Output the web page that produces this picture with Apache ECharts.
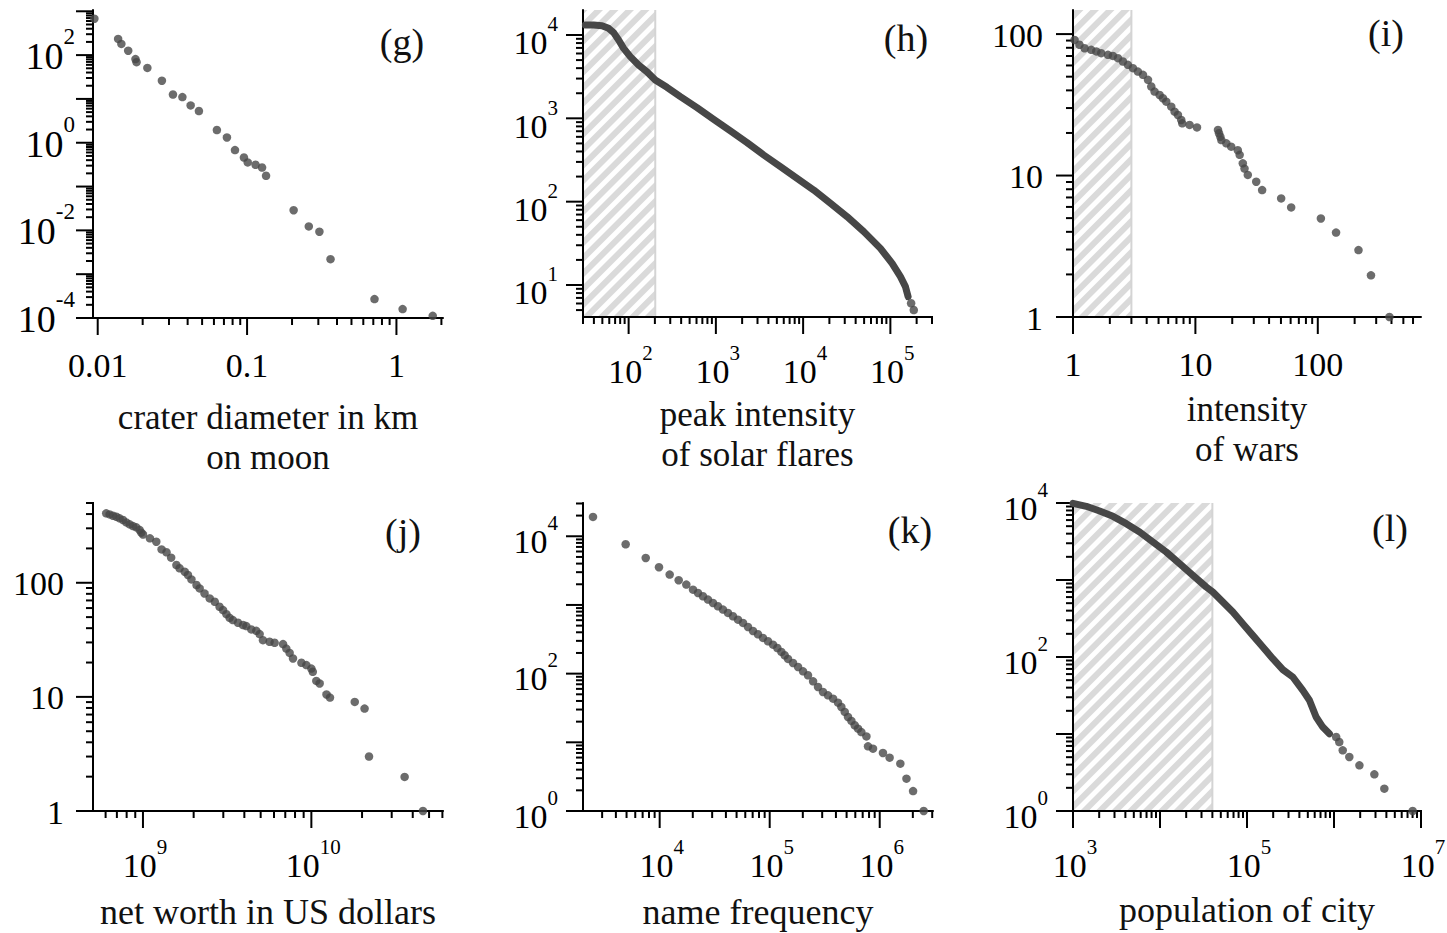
<!DOCTYPE html>
<html><head><meta charset="utf-8">
<script src="https://cdn.jsdelivr.net/npm/echarts@6/dist/echarts.min.js"></script>
<style>html,body{margin:0;padding:0;background:#fff}#c{width:1447px;height:933px}</style>
</head><body><div id="c"></div>
<script>
// ---------- data ----------
const gX = [0.0095,0.0137,0.0144,0.0160,0.0179,0.0182,0.0215,0.0269,0.0319,0.0369,0.0419,0.0476,0.0628,0.0733,0.0830,0.0953,0.101,0.114,0.126,0.134,0.205,0.259,0.305,0.362,0.713,1.10,1.75];
const gY = [676,234,180,126,81,69,51,26,12.6,11.0,7.1,5.3,1.95,1.32,0.68,0.46,0.355,0.314,0.272,0.176,0.0288,0.0123,0.0093,0.0022,0.00027,0.00016,0.000112];

const hCurveX = [31.9,39.7,49.5,59.0,67.3,76.8,87.7,104.5,130,162,202,275,392,608,944,1466,2277,3535,5490,8520,13240,20560,31920,49550,76900,104700,130400,148800,159700];
const hCurveY = [13180,13180,12940,12020,10670,8710,6920,5500,4370,3630,2880,2355,1820,1343,973,705,511,363,263,190.5,138,95.5,66.1,43.7,27.5,18.2,12.6,9.55,7.24];
const hTailX = [172900,185500];
const hTailY = [6.03,5.01];

const iX = [1.03,1.13,1.245,1.41,1.55,1.70,1.93,2.12,2.33,2.56,2.81,3.09,3.39,3.73,4.10,4.36,4.64,5.10,5.43,5.78,6.35,6.76,7.20,7.66,7.81,8.96,10.3,15.3,15.6,16.0,16.3,17.9,19.6,22.2,23.0,24.4,25.2,26.8,31.4,35.1,50.2,60.6,106,141,215,272,385];
const iY = [91.0,84.0,79.4,77.4,75.4,73.3,71.3,70.1,67.6,64.0,60.6,57.4,54.3,51.5,47.5,42.6,39.2,37.1,35.2,33.3,30.7,28.3,26.8,24.7,23.4,22.8,21.9,21.0,19.9,18.8,17.8,16.9,16.0,15.1,14.0,12.2,11.2,10.1,9.04,7.89,6.89,5.95,4.97,3.95,2.97,1.97,1.0];

const jX = [6.05e8,6.34e8,6.64e8,6.95e8,7.27e8,7.61e8,7.96e8,8.34e8,8.73e8,9.13e8,9.55e8,9.78e8,1.0e9,1.10e9,1.20e9,1.29e9,1.38e9,1.47e9,1.58e9,1.65e9,1.77e9,1.85e9,1.94e9,2.08e9,2.17e9,2.32e9,2.49e9,2.67e9,2.85e9,2.99e9,3.13e9,3.27e9,3.42e9,3.67e9,3.93e9,4.11e9,4.40e9,4.71e9,4.93e9,5.16e9,5.65e9,6.05e9,6.79e9,7.10e9,7.43e9,7.78e9,8.73e9,9.34e9,1.00e10,1.02e10,1.07e10,1.12e10,1.23e10,1.29e10,1.81e10,2.07e10,2.20e10,3.58e10,4.60e10];
const jY = [406,397,387,379,367,355,338,325,314,306,290,275,265,245,229,196,185,166,143,134,125,117,107,95.5,89.2,80.6,72.9,68.1,61.6,57.6,53.1,49.3,47.1,44.6,42.6,41.7,39.0,37.9,35.5,31.4,30.4,29.8,29.0,26.5,24.3,21.7,19.9,19.0,17.7,16.6,13.8,13.1,10.5,9.86,9.04,7.9,3.0,1.99,1.0];

const kX = [2478,4909,7470,9860,12330,14890,17470,20090,22300,24770,27490,30530,33880,37630,41770,46400,51500,57200,63500,70500,78300,86900,96600,107200,117400,127700,136900,146800,163000,181100,201000,223000,248000,275000,305000,339000,377000,418000,448000,481000,515000,553000,593000,635000,681000,757000,783000,869000,1.07e6,1.23e6,1.54e6,1.75e6,2.01e6,2.51e6];
const kY = [19140,7640,4830,3540,2770,2290,1977,1671,1495,1337,1196,1069,957,855,765,684,611,547,478,418,374,331,296,264,236,207,185,164,143,125,108,94.6,77.3,63.9,54.1,48.3,43.2,37.8,32.7,27.7,23.4,20.5,17.7,15.8,14.1,12.2,8.74,8.09,7.0,5.98,4.89,2.96,1.95,1.0];

const lCurveX = [1000,1422,2024,2878,4093,5830,8290,11800,16800,23900,34000,40500,52800,68800,89500,116700,152000,198000,258000,336000,438000,522000,623000,743000,886000];
const lCurveY = [9900,9060,7870,6710,5390,4200,3120,2310,1630,1150,811,698,518,384,271,191,135,95,68.4,55,36.9,27.4,16.6,12.3,10.1];
const lTailX = [1.06e6,1.15e6,1.26e6,1.50e6,1.96e6,2.91e6,3.79e6,8.02e6];
const lTailY = [9.14,7.87,6.14,5.03,3.92,2.99,1.95,1.0];

// shaded (excluded) ranges: upper x bound
const hHatchEnd = 202;
const iHatchEnd = 3;
const lHatchEnd = 40000;

// tick labels
const gXTickVals = [0.01,0.1,1],        gXTickLabels = ['0.01','0.1','1'];
const gYTickVals = [1e-4,1e-2,1,1e2],   gYTickLabels = ['10^-4','10^-2','10^0','10^2'];
const hXTickVals = [1e2,1e3,1e4,1e5],   hXTickLabels = ['10^2','10^3','10^4','10^5'];
const hYTickVals = [1e1,1e2,1e3,1e4],   hYTickLabels = ['10^1','10^2','10^3','10^4'];
const iXTickVals = [1,10,100],          iXTickLabels = ['1','10','100'];
const iYTickVals = [1,10,100],          iYTickLabels = ['1','10','100'];
const jXTickVals = [1e9,1e10],          jXTickLabels = ['10^9','10^10'];
const jYTickVals = [1,10,100],          jYTickLabels = ['1','10','100'];
const kXTickVals = [1e4,1e5,1e6],       kXTickLabels = ['10^4','10^5','10^6'];
const kYTickVals = [1,1e2,1e4],         kYTickLabels = ['10^0','10^2','10^4'];
const lXTickVals = [1e3,1e5,1e7],       lXTickLabels = ['10^3','10^5','10^7'];
const lYTickVals = [1,1e2,1e4],         lYTickLabels = ['10^0','10^2','10^4'];

const gName = 'crater diameter in km\non moon';
const hName = 'peak intensity\nof solar flares';
const iName = 'intensity\nof wars';
const jName = 'net worth in US dollars';
const kName = 'name frequency';
const lName = 'population of city';
const panelTags = ['(g)','(h)','(i)','(j)','(k)','(l)'];

// ---------- layout / style ----------
const FONT = '"Liberation Serif","Times New Roman",Times,serif';
const DOT = '#474747';
const zip = (a, b) => a.map((v, i) => [v, b[i]]);

const P = [
  {grid:[93,10,350,308],   x:[0.0093,2.05],   y:[1e-4,1070], xl:[gXTickVals,gXTickLabels], yl:[gYTickVals,gYTickLabels], name:gName, gap:79, nfs:35, yOff:18, yDy:-5, big:true,
   dots:[zip(gX,gY)], curves:[], tag:[402,42]},
  {grid:[583,10,349,307],  x:[30,3.0e5],      y:[4.13,19950], xl:[hXTickVals,hXTickLabels], yl:[hYTickVals,hYTickLabels], name:hName, gap:77, nfs:35, yOff:25, yDy:2,
   dots:[zip(hTailX,hTailY)], curves:[zip(hCurveX,hCurveY)], hatch:hHatchEnd, tag:[906,38]},
  {grid:[1073,10,348,307], x:[1,697],         y:[1,148],     xl:[iXTickVals,iXTickLabels], yl:[iYTickVals,iYTickLabels], name:iName, gap:72, nfs:35, yOff:30, yDy:1,
   dots:[zip(iX,iY)], curves:[], hatch:iHatchEnd, tag:[1386,33]},
  {grid:[93,503,350,308],  x:[5.05e8,6.05e10], y:[1,500],    xl:[jXTickVals,jXTickLabels], yl:[jYTickVals,jYTickLabels], name:jName, gap:81, nfs:36, yOff:29, yDy:1,
   dots:[zip(jX,jY)], curves:[], tag:[403,532]},
  {grid:[583,503,350,308], x:[2010,3.05e6],   y:[1,30500],   xl:[kXTickVals,kXTickLabels], yl:[kYTickVals,kYTickLabels], name:kName, gap:81, nfs:36, yOff:25, yDy:-1,
   dots:[zip(kX,kY)], curves:[], tag:[910,530]},
  {grid:[1073,503,348,308], x:[1e3,1e7],      y:[1,1e4],     xl:[lXTickVals,lXTickLabels], yl:[lYTickVals,lYTickLabels], name:lName, gap:79, nfs:36, yOff:25, yDy:-1,
   dots:[zip(lTailX,lTailY)], curves:[zip(lCurveX,lCurveY)], hatch:lHatchEnd, tag:[1390,528]}
];

function richSet(fs, ss) {
  return {
    b: {fontFamily: FONT, fontSize: fs, lineHeight: fs + 12, fill: '#000', color: '#000', verticalAlign: 'bottom'},
    s: {fontFamily: FONT, fontSize: ss, lineHeight: ss, fill: '#000', color: '#000', verticalAlign: 'top'},
    p: {fontFamily: FONT, fontSize: fs, lineHeight: fs, fill: '#000', color: '#000'}
  };
}
const RICH = richSet(34, 21);
const RICH_BIG = richSet(38, 23);
function fmt(t) {
  const k = t.indexOf('^');
  return k < 0 ? '{p|' + t + '}' : '{b|' + t.slice(0, k) + '}{s|' + t.slice(k + 1) + '}';
}

// hatch stripes ("/" direction) clipped to a rectangle, as polygons
function clipPoly(poly, f) {
  const out = [];
  for (let i = 0; i < poly.length; i++) {
    const cur = poly[i], prev = poly[(i + poly.length - 1) % poly.length];
    const fc = f(cur), fp = f(prev);
    const cross = () => { const t = fp / (fp - fc); return [prev[0] + t * (cur[0] - prev[0]), prev[1] + t * (cur[1] - prev[1])]; };
    if (fc >= 0) { if (fp < 0) out.push(cross()); out.push(cur); }
    else if (fp >= 0) out.push(cross());
  }
  return out;
}
function hatchPolys(x0, y0, x1, y1) {
  const rect = [[x0, y0], [x1, y0], [x1, y1], [x0, y1]];
  const PER = 15.5, W = 8.5, polys = [];
  for (let k = Math.floor((x0 + y0) / PER) * PER - PER; k <= x1 + y1; k += PER) {
    let poly = clipPoly(rect, p => p[0] + p[1] - k);
    poly = clipPoly(poly, p => k + W - p[0] - p[1]);
    if (poly.length >= 3) polys.push(poly);
  }
  return polys;
}

function tickList(min, max) {
  const out = [];
  for (let e = Math.floor(Math.log10(min)) - 1; e <= Math.ceil(Math.log10(max)); e++) {
    for (let m = 1; m <= 9; m++) {
      const v = m * Math.pow(10, e);
      if (v >= min * 0.9999 && v <= max * 1.0001) out.push([v, m === 1 ? 1 : 0]);
    }
  }
  return out;
}

const grids = [], xAxes = [], yAxes = [], series = [], graphics = [];
P.forEach((p, i) => {
  grids.push({left: p.grid[0], top: p.grid[1], width: p.grid[2], height: p.grid[3], containLabel: false, outerBoundsMode: 'none'});
  const axisCommon = {
    type: 'log', logBase: 10, gridIndex: i, z: 3,
    axisLine: {show: true, onZero: false, lineStyle: {color: '#000', width: 2}},
    axisTick: {show: false}, minorTick: {show: false},
    axisLabel: {show: false}, splitLine: {show: false}, minorSplitLine: {show: false}
  };
  xAxes.push(Object.assign({}, axisCommon, {
    min: p.x[0], max: p.x[1], name: p.name, nameLocation: 'middle', nameGap: p.gap,
    nameTextStyle: {fontFamily: FONT, fontSize: p.nfs, lineHeight: 40, color: '#111'}
  }));
  yAxes.push(Object.assign({}, axisCommon, {min: p.y[0], max: p.y[1]}));
  const ax = {xAxisIndex: i, yAxisIndex: i, silent: true, clip: false};

  if (p.hatch) {
    series.push(Object.assign({type: 'custom', z: 1, data: [[p.x[0], p.y[0], p.hatch, p.y[1]]],
      encode: {x: [0, 2], y: [1, 3]},
      renderItem: (params, api) => {
        const a = api.coord([api.value(0), api.value(3)]);
        const b = api.coord([api.value(2), api.value(1)]);
        const kids = hatchPolys(a[0], a[1], b[0], b[1]).map(pts => ({type: 'polygon', shape: {points: pts}, style: {fill: '#dadada'}}));
        kids.push({type: 'line', shape: {x1: b[0], y1: a[1], x2: b[0], y2: b[1]}, style: {stroke: '#d4d4d4', lineWidth: 2}});
        return {type: 'group', children: kids};
      }}, ax));
  }
  // x ticks
  series.push(Object.assign({type: 'custom', z: 3,
    data: tickList(p.x[0], p.x[1]).map(t => [t[0], p.y[0], t[1]]),
    renderItem: (params, api) => {
      const c = api.coord([api.value(0), api.value(1)]);
      const len = api.value(2) ? 17 : 7;
      return {type: 'line', shape: {x1: c[0], y1: c[1] - 1, x2: c[0], y2: c[1] + len}, style: {stroke: '#000', lineWidth: 2}};
    }}, ax));
  // y ticks
  series.push(Object.assign({type: 'custom', z: 3,
    data: tickList(p.y[0], p.y[1]).map(t => [p.x[0], t[0], t[1]]),
    renderItem: (params, api) => {
      const c = api.coord([api.value(0), api.value(1)]);
      const len = api.value(2) ? 17 : 7;
      return {type: 'line', shape: {x1: c[0] + 1, y1: c[1], x2: c[0] - len, y2: c[1]}, style: {stroke: '#000', lineWidth: 2}};
    }}, ax));
  // x tick labels
  series.push(Object.assign({type: 'custom', z: 3,
    data: p.xl[0].map(v => [v, p.y[0]]),
    renderItem: (params, api) => {
      const c = api.coord([api.value(0), api.value(1)]);
      const t = p.xl[1][params.dataIndex];
      const sup = t.indexOf('^') >= 0;
      return {type: 'text', x: c[0] + (sup ? 2 : 0), y: c[1] + (sup ? 48 : 47),
        style: {text: fmt(t), rich: RICH, align: 'center', verticalAlign: 'middle', fill: '#000'}};
    }}, ax));
  // y tick labels
  series.push(Object.assign({type: 'custom', z: 3,
    data: p.yl[0].map(v => [p.x[0], v]),
    renderItem: (params, api) => {
      const c = api.coord([api.value(0), api.value(1)]);
      const t = p.yl[1][params.dataIndex];
      return {type: 'text', x: c[0] - p.yOff, y: c[1] + p.yDy,
        style: {text: fmt(t), rich: p.big ? RICH_BIG : RICH, align: 'right', verticalAlign: 'middle', fill: '#000'}};
    }}, ax));
  p.curves.forEach(d => series.push(Object.assign({type: 'line', z: 5, data: d, showSymbol: false, symbol: 'none',
    lineStyle: {color: DOT, width: 7, cap: 'round', join: 'round'}}, ax)));
  p.dots.forEach(d => series.push(Object.assign({type: 'scatter', z: 5, data: d, symbol: 'circle', symbolSize: 8.5,
    itemStyle: {color: DOT}}, ax)));
  graphics.push({type: 'text', x: p.tag[0], y: p.tag[1], z: 10,
    style: {text: panelTags[i], align: 'center', verticalAlign: 'middle', fontFamily: FONT, fontSize: 38, fill: '#111'}});
});

const chart = echarts.init(document.getElementById('c'), null, {renderer: 'svg'});
chart.setOption({
  animation: false,
  backgroundColor: '#ffffff',
  grid: grids, xAxis: xAxes, yAxis: yAxes, series: series, graphic: graphics
});
</script></body></html>
